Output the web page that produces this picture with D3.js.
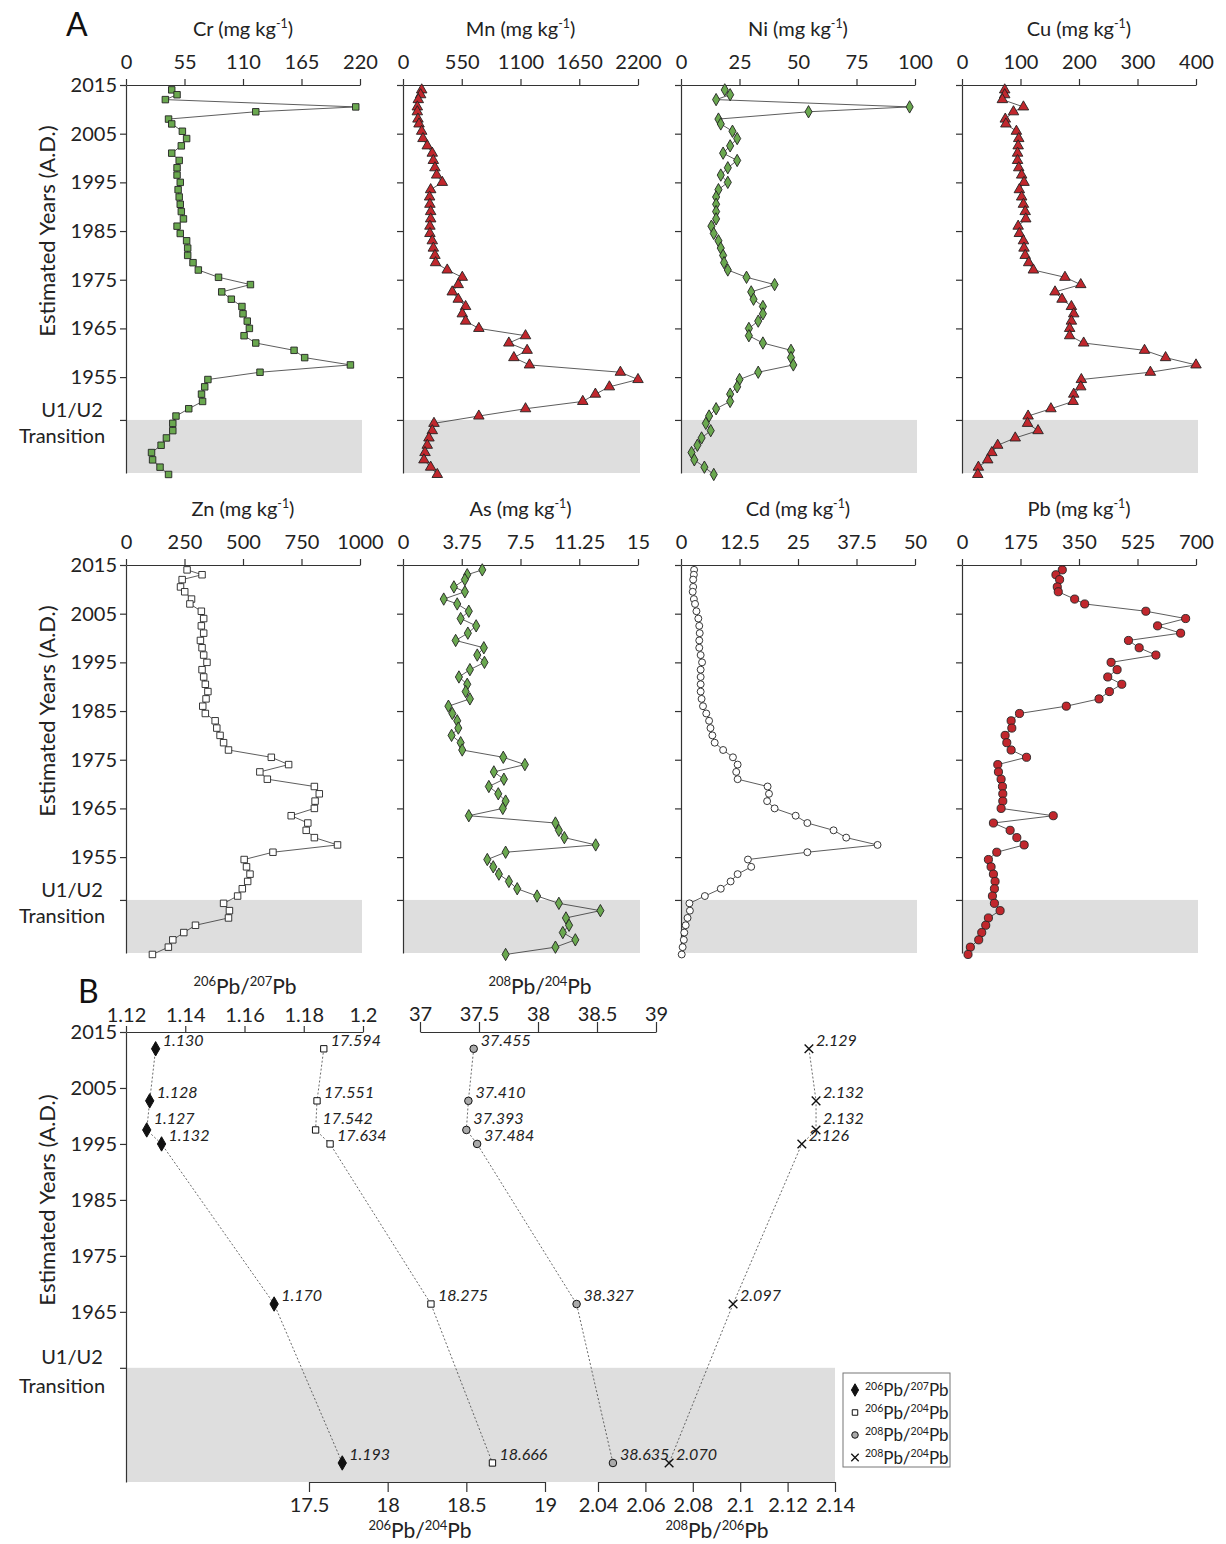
<!DOCTYPE html>
<html>
<head>
<meta charset="utf-8">
<script src="https://cdn.jsdelivr.net/npm/d3@7"></script>
<style>
  body { margin: 0; background: #fff; }
  svg { font-family: Lato, "Open Sans", sans-serif; }
  .axis path, .axis line { stroke: #333; stroke-width: 1.2; }
  .axis text { font-size: 20px; fill: #222; font-family: Lato, sans-serif; }
</style>
</head>
<body>
<svg id="chart" width="1226" height="1544"></svg>
<script>
// sample years (estimated, top = youngest)
var years = [2014, 2013, 2012, 2010.5, 2009.5, 2008, 2007, 2005.5, 2004, 2002.5, 2001, 1999.5, 1998, 1996.5, 1995,
  1993.5, 1992, 1990.5, 1989, 1987.5, 1986, 1984.5, 1983, 1981.5, 1980, 1978.5, 1977, 1975.5, 1974, 1972.5,
  1971, 1969.5, 1968, 1966.5, 1965, 1963.5, 1962, 1960.5, 1959, 1957.5, 1956, 1954.5, 1953, 1951.5, 1950,
  1948.5, 1947, 1945.5, 1944, 1942.5, 1941, 1939.5, 1938, 1936.5, 1935];

var cr = [43,48,37,216,122, 40,43,53,57,52, 43,50,48,48,51, 49,50,51,52,54, 48,51,57,58,58, 63,68,87,117,90,
  99,109,110,114,116, 111,122,158,168,211, 126,77,74,71,72, 59,47,44,44,38, 33,24,25,32,40];
var mn = [175,165,143,134,134, 140,150,175,187,227, 274,284,299,315,368, 259,249,252,259,259, 252,252,274,284,299,
  305,414,555,517,461, 517,586,555,586,710, 1147,991,1162,1038,1184, 2035,2200,1932,1801,1683, 1147,710,290,274,243,
  227,206,196,259,321];
var ni = [18.7,21,15,97.7,54.5, 16,17,22,24,21, 18,24,20,17,20, 16,15,15,15,15, 13,14,16,17,18, 18.4,20,28,40,30,
  31,35,35,33,29, 29,35,47,47,48, 33,25,24,21,21, 15,12,10.6,12.7,8.8, 7,4.5,5.7,10,14];
var cu = [73,73,69,105,88, 74,75,93,97,96, 95,95,97,102,106, 98,102,105,108,109, 96,98,105,106,108, 114,122,176,203,159,
  171,187,191,187,184, 184,208,312,348,400, 322,204,203,191,190, 152,113,112,130,91, 61,51,44,28,27];
var zn = [261,325,240,233,251, 280,273,322,332,322, 332,318,325,332,346, 325,332,339,350,342, 328,339,381,388,402,
  417,438,621,695,572, 604,805,826,808,805, 706,777,770,805,904, 628,505,515,530,520, 497,477,417,442,438,
  297,247,200,181,113];
var as = [5.06,4.1,3.95,3.25,3.95, 2.6,3.46,4.2,3.68,4.67, 4.14,3.36,5.16,4.74,5.2, 4.27,3.57,4.1,4.0,4.27,
  2.9,3.15,3.46,3.53,3.1, 3.68,3.78,6.4,7.78,5.8, 6.44,5.48,6.08,6.55,6.37, 4.2,9.73,9.95,10.3,12.3,
  6.55,5.38,5.76,6.12,6.76, 7.29,8.56,9.95,12.6,10.4, 10.6,10.2,11.0,9.73,6.55];
var cd = [2.8,2.75,2.6,2.6,2.5, 2.75,3.0,3.3,3.7,3.9, 4.0,3.9,3.9,4.2,4.5, 4.2,4.2,4.2,4.2,4.4, 4.7,5.4,6.0,6.3,6.7,
  7.2,9.0,11.1,12.1,11.8, 12.1,18.5,18.8,18.4,20.0, 24.5,27,32.6,35.3,42.0, 27,14.3,15.0,12.1,10.6,
  8.5,5.1,1.8,1.9,1.4, 1.0,0.7,0.6,0.35,0.15];
var pb = [300,281,292,285,288, 337,367,550,669,585, 654,498,530,580,446, 464,436,478,441,410, 312,172,147,149,129,
  134,147,193,107,109, 117,121,122,122,117, 273,94,144,164,186, 104,79,87,94,99, 97,91,97,114,79, 71,59,50,25,18];

var crTicks = [0, 55, 110, 165, 220];
var mnTicks = [0, 550, 1100, 1650, 2200];
var niTicks = [0, 25, 50, 75, 100];
var cuTicks = [0, 100, 200, 300, 400];
var znTicks = [0, 250, 500, 750, 1000];
var asTicks = [0, 3.75, 7.5, 11.25, 15];
var cdTicks = [0, 12.5, 25, 37.5, 50];
var pbTicks = [0, 175, 350, 525, 700];
var yearTicks = [2015, 2005, 1995, 1985, 1975, 1965, 1955];

// panel B: lead isotope ratios
var isoYears = [2012, 2002.7, 1997.5, 1995, 1966.4, 1938];
var pb206_207 = [1.130, 1.128, 1.127, 1.132, 1.170, 1.193];
var pb206_204 = [17.594, 17.551, 17.542, 17.634, 18.275, 18.666];
var pb208_204 = [37.455, 37.410, 37.393, 37.484, 38.327, 38.635];
var pb208_206 = [2.129, 2.132, 2.132, 2.126, 2.097, 2.070];
var ticks206_207 = [1.12, 1.14, 1.16, 1.18, 1.2];
var ticks208_204 = [37, 37.5, 38, 38.5, 39];
var ticks206_204 = [17.5, 18, 18.5, 19];
var ticks208_206 = [2.04, 2.06, 2.08, 2.1, 2.12, 2.14];

var green = "#6aa84f", red = "#c1272d";
var svg = d3.select("#chart");

function symbolFor(name) {
  return { square: d3.symbolSquare, triangle: d3.symbolTriangle, diamond: d3.symbolDiamond,
           circle: d3.symbolCircle, cross: d3.symbolX }[name];
}

// text with superscripts
function richText(sel, parts, size) {
  parts.forEach(function (p) {
    var t = sel.append("tspan").text(p[0]);
    if (p[1] === "sup") t.attr("font-size", size * 0.62).attr("dy", -size * 0.38);
    else if (p[1] === "down") t.attr("dy", size * 0.38);
  });
}

var colsX = [[126, 360], [403, 638], [681, 915], [962, 1196]];
var panels = [
  { row: 0, col: 0, name: "Cr", vals: cr, ticks: crTicks, sym: "square", fill: green, size: 42 },
  { row: 0, col: 1, name: "Mn", vals: mn, ticks: mnTicks, sym: "triangle", fill: red, size: 48 },
  { row: 0, col: 2, name: "Ni", vals: ni, ticks: niTicks, sym: "diamond", fill: green, size: 44 },
  { row: 0, col: 3, name: "Cu", vals: cu, ticks: cuTicks, sym: "triangle", fill: red, size: 48 },
  { row: 1, col: 0, name: "Zn", vals: zn, ticks: znTicks, sym: "square", fill: "#fff", size: 42 },
  { row: 1, col: 1, name: "As", vals: as, ticks: asTicks, sym: "diamond", fill: green, size: 44 },
  { row: 1, col: 2, name: "Cd", vals: cd, ticks: cdTicks, sym: "circle", fill: "#fff", size: 38 },
  { row: 1, col: 3, name: "Pb", vals: pb, ticks: pbTicks, sym: "circle", fill: red, size: 52 }
];

var transYear = 1946.2;

panels.forEach(function (p) {
  var off = p.row * 480;
  var x0 = colsX[p.col][0], x1 = colsX[p.col][1];
  var y = d3.scaleLinear().domain([2015, 1935.3]).range([85 + off, 473 + off]);
  var x = d3.scaleLinear().domain([0, p.ticks[p.ticks.length - 1]]).range([x0, x1]);
  var g = svg.append("g");

  g.append("rect").attr("x", x0).attr("y", y(transYear))
    .attr("width", x1 - x0 + 2).attr("height", y(1935.3) - y(transYear)).attr("fill", "#dedede");

  g.append("g").attr("class", "axis").attr("transform", "translate(0," + y(2015) + ")")
    .call(d3.axisTop(x).tickValues(p.ticks).tickSize(6).tickSizeOuter(0).tickPadding(10)
      .tickFormat(function (d) { return d; }));

  g.append("g").attr("class", "axis").attr("transform", "translate(" + x0 + ",0)")
    .call(d3.axisLeft(y).tickValues(yearTicks.concat([transYear])).tickSize(6).tickSizeOuter(0)
      .tickFormat(function (d) { return (p.col === 0 && d !== transYear) ? d : ""; }));

  var title = g.append("text").attr("x", (x0 + x1) / 2).attr("y", 36 + off)
    .attr("text-anchor", "middle").attr("font-size", 20).attr("fill", "#222");
  richText(title, [[p.name + " (mg kg"], ["-1", "sup"], [")", "down"]], 20);

  var line = d3.line().x(function (d) { return x(d); }).y(function (d, i) { return y(years[i]); });
  g.append("path").datum(p.vals).attr("d", line).attr("fill", "none")
    .attr("stroke", "#333").attr("stroke-width", 0.8);

  g.selectAll(".pt").data(p.vals).enter().append("path")
    .attr("transform", function (d, i) { return "translate(" + x(d) + "," + y(years[i]) + ")"; })
    .attr("d", d3.symbol().type(symbolFor(p.sym)).size(p.size))
    .attr("fill", p.fill).attr("stroke", "#222").attr("stroke-width", 0.9);

  if (p.col === 0) {
    g.append("text").attr("x", 72).attr("y", 417 + off).attr("text-anchor", "middle")
      .attr("font-size", 20).attr("fill", "#222").text("U1/U2");
    g.append("text").attr("x", 62).attr("y", 443 + off).attr("text-anchor", "middle")
      .attr("font-size", 20).attr("fill", "#222").text("Transition");
    g.append("text").attr("transform", "translate(55," + (231 + off) + ") rotate(-90)")
      .attr("text-anchor", "middle").attr("font-size", 22).attr("fill", "#222")
      .text("Estimated Years (A.D.)");
  }
});

svg.append("text").attr("x", 66).attr("y", 36).attr("font-size", 32).attr("fill", "#111").text("A");
svg.append("text").attr("x", 78).attr("y", 1003).attr("font-size", 32).attr("fill", "#111").text("B");

// ---------- panel B ----------
var yB = d3.scaleLinear().domain([2015, 1934.6]).range([1032, 1482]);
var bTrans = 1955;
var gB = svg.append("g");
gB.append("rect").attr("x", 126).attr("y", yB(bTrans)).attr("width", 835 - 126)
  .attr("height", yB(1934.6) - yB(bTrans)).attr("fill", "#dedede");

var x67 = d3.scaleLinear().domain([1.12, 1.2]).range([126, 363]);
var x84 = d3.scaleLinear().domain([37, 39]).range([420, 656]);
var x64 = d3.scaleLinear().domain([17.5, 19]).range([309, 545]);
var x86 = d3.scaleLinear().domain([2.04, 2.14]).range([598, 835]);

function fmt(d) { return d; }
gB.append("g").attr("class", "axis").attr("transform", "translate(0,1032)")
  .call(d3.axisTop(x67).tickValues(ticks206_207).tickSize(6).tickSizeOuter(0).tickPadding(4).tickFormat(fmt));
gB.append("g").attr("class", "axis").attr("transform", "translate(0,1032)")
  .call(d3.axisTop(x84).tickValues(ticks208_204).tickSize(10).tickSizeOuter(0).tickPadding(1).tickFormat(fmt));
gB.append("g").attr("class", "axis").attr("transform", "translate(0,1482)")
  .call(d3.axisBottom(x64).tickValues(ticks206_204).tickSize(10).tickSizeOuter(0).tickPadding(6).tickFormat(fmt));
gB.append("g").attr("class", "axis").attr("transform", "translate(0,1482)")
  .call(d3.axisBottom(x86).tickValues(ticks208_206).tickSize(10).tickSizeOuter(0).tickPadding(6).tickFormat(fmt));
gB.append("g").attr("class", "axis").attr("transform", "translate(126,0)")
  .call(d3.axisLeft(yB).tickValues([2015, 2005, 1995, 1985, 1975, 1965, bTrans]).tickSize(6).tickSizeOuter(0)
    .tickFormat(function (d) { return d === bTrans ? "" : d; }));

gB.append("text").attr("x", 72).attr("y", 1364).attr("text-anchor", "middle")
  .attr("font-size", 20).attr("fill", "#222").text("U1/U2");
gB.append("text").attr("x", 62).attr("y", 1393).attr("text-anchor", "middle")
  .attr("font-size", 20).attr("fill", "#222").text("Transition");
gB.append("text").attr("transform", "translate(55,1200) rotate(-90)")
  .attr("text-anchor", "middle").attr("font-size", 22).attr("fill", "#222").text("Estimated Years (A.D.)");

function isoTitle(x, y, a, b) {
  var t = gB.append("text").attr("x", x).attr("y", y).attr("text-anchor", "middle")
    .attr("font-size", 21).attr("fill", "#222");
  richText(t, [[a, "sup"], ["Pb/", "down"], [b, "sup"], ["Pb", "down"]], 21);
}
isoTitle(245, 994, "206", "207");
isoTitle(540, 994, "208", "204");
isoTitle(420, 1538, "206", "204");
isoTitle(717, 1538, "208", "206");

var isoSeries = [
  { vals: pb206_207, x: x67, sym: "diamond", fill: "#111", size: 60 },
  { vals: pb206_204, x: x64, sym: "square", fill: "#fff", size: 40 },
  { vals: pb208_204, x: x84, sym: "circle", fill: "#aaa", size: 45 },
  { vals: pb208_206, x: x86, sym: "cross", fill: "none", size: 50 }
];
isoSeries.forEach(function (s) {
  var line = d3.line().x(function (d) { return s.x(d); }).y(function (d, i) { return yB(isoYears[i]); });
  gB.append("path").datum(s.vals).attr("d", line).attr("fill", "none")
    .attr("stroke", "#444").attr("stroke-width", 0.8).attr("stroke-dasharray", "2,2");
  gB.selectAll(null).data(s.vals).enter().append("path")
    .attr("transform", function (d, i) { return "translate(" + s.x(d) + "," + yB(isoYears[i]) + ")"; })
    .attr("d", d3.symbol().type(symbolFor(s.sym)).size(s.size))
    .attr("fill", s.fill).attr("stroke", "#111").attr("stroke-width", s.sym === "cross" ? 1.4 : 1);
  gB.selectAll(null).data(s.vals).enter().append("text")
    .attr("x", function (d) { return s.x(d) + 7; })
    .attr("y", function (d, i) { return yB(isoYears[i]) - (i === 2 ? 6 : 3); })
    .attr("font-size", 16).attr("font-style", "italic").attr("fill", "#222")
    .text(function (d) { return d.toFixed(3); });
});

// legend
var lg = gB.append("g").attr("transform", "translate(843,1373)");
lg.append("rect").attr("width", 107).attr("height", 94).attr("fill", "#fff").attr("stroke", "#777");
var legendSub = [["206", "207"], ["206", "204"], ["208", "204"], ["208", "204"]];
isoSeries.forEach(function (s, i) {
  var yy = 17 + i * 22.5;
  lg.append("path").attr("transform", "translate(12," + yy + ")")
    .attr("d", d3.symbol().type(symbolFor(s.sym)).size(s.size * 0.75))
    .attr("fill", s.fill).attr("stroke", "#111").attr("stroke-width", s.sym === "cross" ? 1.3 : 1);
  var t = lg.append("text").attr("x", 22).attr("y", yy + 6).attr("font-size", 17).attr("fill", "#222");
  richText(t, [[legendSub[i][0], "sup"], ["Pb/", "down"], [legendSub[i][1], "sup"], ["Pb", "down"]], 17);
});
</script>
</body>
</html>
